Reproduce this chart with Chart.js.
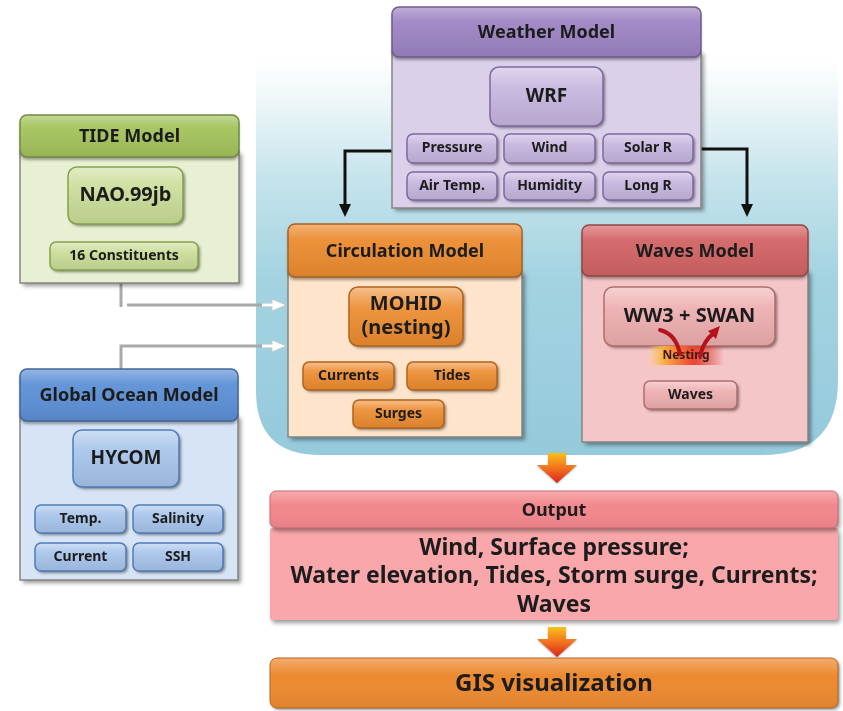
<!DOCTYPE html>
<html>
<head>
<meta charset="utf-8">
<script src="https://cdn.jsdelivr.net/npm/chart.js@4.4.1/dist/chart.umd.min.js"></script>
<style>
  html, body { margin: 0; padding: 0; background: #fff; }
  #diagram { display: block; }
</style>
</head>
<body>
<canvas id="diagram" width="843" height="711"></canvas>
<script>
// ---- diagram content ----
const moduleTitles = ["Weather Model", "TIDE Model", "Global Ocean Model", "Circulation Model", "Waves Model"];
const coreModels = ["WRF", "NAO.99jb", "HYCOM", "MOHID\n(nesting)", "WW3 + SWAN"];
const weatherVars = ["Pressure", "Wind", "Solar R", "Air Temp.", "Humidity", "Long R"];
const tideVars = ["16 Constituents"];
const oceanVars = ["Temp.", "Salinity", "Current", "SSH"];
const circulationVars = ["Currents", "Tides", "Surges"];
const wavesVars = ["Waves"];
const nestingLabel = "Nesting";
const outputTitle = "Output";
const outputLines = ["Wind, Surface pressure;", "Water elevation, Tides, Storm surge, Currents;", "Waves"];
const finalStep = "GIS visualization";

// ---- layout (diagram units, x: 0..843, y: 0..711 downwards) ----
const layout = {
    modules: [
        { box: [392, 7, 701, 208], head: 57, col: "#9c84c3", body: "#dbd0ea", btn: "#c6b5de", edge: "#7d68a0" },
        { box: [20, 115, 239, 283], head: 157, col: "#a3c35b", body: "#e8f0d3", btn: "#cadd98", edge: "#86a14b" },
        { box: [20, 369, 238, 580], head: 421, col: "#5c90d6", body: "#d7e4f5", btn: "#a6c4eb", edge: "#4f7bb8" },
        { box: [288, 224, 522, 437], head: 277, col: "#ec8b30", body: "#fde4ca", btn: "#ed8c30", edge: "#b4621b" },
        { box: [582, 225, 808, 442], head: 276, col: "#d26364", body: "#f5c6c7", btn: "#eeaeb0", edge: "#b26c6e" }
    ],
    cores: [[490, 67, 603, 126], [68, 167, 183, 224], [73, 430, 179, 487], [349, 287, 463, 346], [604, 287, 775, 346]],
    weather: [[407, 134, 497, 163], [504, 134, 595, 163], [603, 134, 693, 163],
              [407, 172, 497, 200], [504, 172, 595, 200], [603, 172, 693, 200]],
    tide: [[50, 242, 198, 270]],
    ocean: [[35, 505, 126, 533], [133, 505, 223, 533], [35, 543, 126, 571], [133, 543, 223, 571]],
    circulation: [[303, 362, 394, 390], [407, 362, 497, 390], [353, 400, 444, 428]],
    waves: [[644, 381, 737, 409]],
    output: [270, 491, 838, 528, 620],
    gis: [270, 658, 838, 708],
    downArrows: [[557, 453, 483], [557, 627, 657]]
};

const FONT = '"Noto Sans", "DejaVu Sans", sans-serif';

function shade(hex, amt) {
    let n = parseInt(hex.slice(1), 16);
    let r = (n >> 16) & 255, g = (n >> 8) & 255, b = n & 255;
    const f = v => Math.max(0, Math.min(255, Math.round(amt >= 0 ? v + (255 - v) * amt : v * (1 + amt))));
    return `rgb(${f(r)},${f(g)},${f(b)})`;
}

const diagramPlugin = {
    id: "diagram",
    afterDraw(chart) {
        const ctx = chart.ctx;
        const sx = chart.scales.x, sy = chart.scales.y;
        const X = v => sx.getPixelForValue(v);
        const Y = v => sy.getPixelForValue(v);

        function text(str, x, y, size, maxW, color) {
            ctx.save();
            ctx.font = `bold ${size}px ${FONT}`;
            ctx.fillStyle = color || "#1c1c1c";
            ctx.textAlign = "center";
            ctx.textBaseline = "middle";
            if (maxW) ctx.fillText(str, X(x), Y(y), maxW);
            else ctx.fillText(str, X(x), Y(y));
            ctx.restore();
        }

        function button(b, base, edge, label, size, r) {
            const x = X(b[0]), y = Y(b[1]), w = X(b[2]) - x, h = Y(b[3]) - y;
            r = r || 6;
            ctx.save();
            ctx.shadowColor = "rgba(0,0,0,0.45)";
            ctx.shadowOffsetX = 2; ctx.shadowOffsetY = 2; ctx.shadowBlur = 3;
            ctx.beginPath(); ctx.roundRect(x, y, w, h, r);
            ctx.fillStyle = base; ctx.fill();
            ctx.restore();
            ctx.save();
            const g = ctx.createLinearGradient(0, y, 0, y + h);
            g.addColorStop(0, "rgba(255,255,255,0.45)");
            g.addColorStop(0.35, "rgba(255,255,255,0.08)");
            g.addColorStop(1, "rgba(0,0,0,0.08)");
            ctx.beginPath(); ctx.roundRect(x, y, w, h, r);
            ctx.fillStyle = g; ctx.fill();
            ctx.lineWidth = 1.5; ctx.strokeStyle = edge; ctx.stroke();
            ctx.restore();
            const lines = label.split("\n");
            const cy = (b[1] + b[3]) / 2, lh = size * 1.22;
            lines.forEach((t, i) => text(t, (b[0] + b[2]) / 2, cy + (i - (lines.length - 1) / 2) * lh, size, w - 6));
        }

        function module(m, title) {
            const [x1, y1, x2, y2] = m.box;
            // body
            ctx.save();
            ctx.shadowColor = "rgba(0,0,0,0.4)";
            ctx.shadowOffsetX = 3; ctx.shadowOffsetY = 3; ctx.shadowBlur = 4;
            ctx.fillStyle = m.body;
            ctx.fillRect(X(x1), Y(m.head - 6), X(x2) - X(x1), Y(y2) - Y(m.head - 6));
            ctx.restore();
            ctx.save();
            ctx.strokeStyle = "#858585"; ctx.lineWidth = 1.5;
            ctx.strokeRect(X(x1), Y(m.head - 6), X(x2) - X(x1), Y(y2) - Y(m.head - 6));
            ctx.restore();
            // header
            const hx = X(x1), hy = Y(y1), hw = X(x2) - X(x1), hh = Y(m.head) - Y(y1);
            ctx.save();
            ctx.shadowColor = "rgba(0,0,0,0.35)";
            ctx.shadowOffsetY = 3; ctx.shadowBlur = 3;
            ctx.beginPath(); ctx.roundRect(hx, hy, hw, hh, 7);
            ctx.fillStyle = m.col; ctx.fill();
            ctx.restore();
            ctx.save();
            const g = ctx.createLinearGradient(0, hy, 0, hy + hh);
            g.addColorStop(0, "rgba(255,255,255,0.35)");
            g.addColorStop(0.3, "rgba(255,255,255,0.05)");
            g.addColorStop(1, "rgba(0,0,0,0.08)");
            ctx.beginPath(); ctx.roundRect(hx, hy, hw, hh, 7);
            ctx.fillStyle = g; ctx.fill();
            ctx.lineWidth = 1.5; ctx.strokeStyle = shade(m.col, -0.3); ctx.stroke();
            ctx.restore();
            text(title, (x1 + x2) / 2, (y1 + m.head) / 2 + 1, 18);
        }

        // background panel, fading to white at the top
        ctx.save();
        ctx.fillStyle = "#fff";
        ctx.fillRect(0, 0, chart.width, chart.height);
        const bg = ctx.createLinearGradient(0, Y(60), 0, Y(455));
        bg.addColorStop(0, "#ffffff");
        bg.addColorStop(0.1, "#eef7f9");
        bg.addColorStop(0.3, "#c6e4ec");
        bg.addColorStop(0.55, "#a3d3e1");
        bg.addColorStop(1, "#95cadb");
        ctx.beginPath();
        ctx.moveTo(X(256), Y(60));
        ctx.lineTo(X(838), Y(60));
        ctx.lineTo(X(838), Y(380));
        ctx.quadraticCurveTo(X(838), Y(455), X(763), Y(455));
        ctx.lineTo(X(320), Y(455));
        ctx.quadraticCurveTo(X(256), Y(455), X(256), Y(391));
        ctx.closePath();
        ctx.fillStyle = bg; ctx.fill();
        ctx.restore();

        // black connectors from weather model
        ctx.save();
        ctx.strokeStyle = "#111"; ctx.fillStyle = "#111"; ctx.lineWidth = 3;
        [[392, 345, 151], [701, 747, 149]].forEach(([from, to, yy]) => {
            ctx.beginPath();
            ctx.moveTo(X(from), Y(yy)); ctx.lineTo(X(to), Y(yy)); ctx.lineTo(X(to), Y(206));
            ctx.stroke();
            ctx.beginPath();
            ctx.moveTo(X(to) - 6, Y(204)); ctx.lineTo(X(to) + 6, Y(204)); ctx.lineTo(X(to), Y(217));
            ctx.closePath(); ctx.fill();
        });
        ctx.restore();

        // gray connectors to circulation model
        ctx.save();
        ctx.strokeStyle = "#a9a9a9"; ctx.lineWidth = 3;
        ctx.beginPath();
        ctx.moveTo(X(121), Y(283)); ctx.lineTo(X(121), Y(307));
        ctx.moveTo(X(127), Y(305)); ctx.lineTo(X(276), Y(305));
        ctx.moveTo(X(121), Y(369)); ctx.lineTo(X(121), Y(346)); ctx.lineTo(X(276), Y(346));
        ctx.stroke();
        ctx.fillStyle = "#fff"; ctx.strokeStyle = "#c8c8c8"; ctx.lineWidth = 1;
        [305, 346].forEach(yy => {
            ctx.beginPath();
            ctx.moveTo(X(272), Y(yy) - 6); ctx.lineTo(X(286), Y(yy)); ctx.lineTo(X(272), Y(yy) + 6);
            ctx.closePath(); ctx.fill(); ctx.stroke();
            ctx.fillRect(X(262), Y(yy) - 1.5, 12, 3);
        });
        ctx.restore();

        // modules
        layout.modules.forEach((m, i) => module(m, moduleTitles[i]));
        const M = layout.modules;
        const coreSizes = [19, 20, 19, 20, 20];
        layout.cores.forEach((b, i) => button(b, M[i].btn, M[i].edge, coreModels[i], coreSizes[i], 9));
        weatherVars.forEach((t, i) => button(layout.weather[i], M[0].btn, M[0].edge, t, 14));
        tideVars.forEach((t, i) => button(layout.tide[i], M[1].btn, M[1].edge, t, 14));
        oceanVars.forEach((t, i) => button(layout.ocean[i], M[2].btn, M[2].edge, t, 14));
        circulationVars.forEach((t, i) => button(layout.circulation[i], M[3].btn, M[3].edge, t, 14));
        wavesVars.forEach((t, i) => button(layout.waves[i], M[4].btn, M[4].edge, t, 14));

        // nesting glow + arcs
        ctx.save();
        const ng = ctx.createLinearGradient(X(648), 0, X(724), 0);
        ng.addColorStop(0, "rgba(255,210,90,0)");
        ng.addColorStop(0.2, "rgba(250,175,60,0.95)");
        ng.addColorStop(0.6, "rgba(235,60,40,0.95)");
        ng.addColorStop(1, "rgba(200,20,20,0)");
        ctx.fillStyle = ng;
        ctx.fillRect(X(648), Y(346), X(724) - X(648), Y(365) - Y(346));
        ctx.restore();
        text(nestingLabel, 686, 356, 12, null, "#3a1a10");
        ctx.save();
        ctx.strokeStyle = "#b5121b"; ctx.lineWidth = 4; ctx.lineCap = "round";
        ctx.beginPath();
        ctx.moveTo(X(660), Y(330));
        ctx.quadraticCurveTo(X(676), Y(334), X(680), Y(354));
        ctx.stroke();
        ctx.beginPath();
        ctx.moveTo(X(700), Y(356));
        ctx.quadraticCurveTo(X(704), Y(340), X(713), Y(334));
        ctx.stroke();
        ctx.fillStyle = "#b5121b";
        ctx.beginPath();
        ctx.moveTo(X(720), Y(326)); ctx.lineTo(X(708), Y(331)); ctx.lineTo(X(716), Y(339));
        ctx.closePath(); ctx.fill();
        ctx.restore();

        // orange down arrows
        layout.downArrows.forEach(([cx, top, tip]) => {
            const g = ctx.createLinearGradient(0, Y(top), 0, Y(tip));
            g.addColorStop(0, "#f7c21a");
            g.addColorStop(0.55, "#f26a1e");
            g.addColorStop(1, "#d9261a");
            ctx.save();
            ctx.shadowColor = "rgba(0,0,0,0.3)"; ctx.shadowOffsetY = 1; ctx.shadowBlur = 2;
            ctx.fillStyle = g;
            ctx.beginPath();
            ctx.moveTo(X(cx - 9), Y(top)); ctx.lineTo(X(cx + 9), Y(top));
            ctx.lineTo(X(cx + 9), Y(top + 12)); ctx.lineTo(X(cx + 20), Y(top + 12));
            ctx.lineTo(X(cx), Y(tip)); ctx.lineTo(X(cx - 20), Y(top + 12));
            ctx.lineTo(X(cx - 9), Y(top + 12));
            ctx.closePath(); ctx.fill();
            ctx.restore();
        });

        // output block
        const o = layout.output;
        ctx.save();
        ctx.shadowColor = "rgba(0,0,0,0.4)"; ctx.shadowOffsetX = 2; ctx.shadowOffsetY = 3; ctx.shadowBlur = 4;
        ctx.fillStyle = "#f9a7aa";
        ctx.beginPath(); ctx.roundRect(X(o[0]), Y(o[3]), X(o[2]) - X(o[0]), Y(o[4]) - Y(o[3]), 3); ctx.fill();
        ctx.fillStyle = "#f2878d";
        ctx.beginPath(); ctx.roundRect(X(o[0]), Y(o[1]), X(o[2]) - X(o[0]), Y(o[3]) - Y(o[1]), 6); ctx.fill();
        ctx.restore();
        ctx.save();
        let g2 = ctx.createLinearGradient(0, Y(o[1]), 0, Y(o[3]));
        g2.addColorStop(0, "rgba(255,255,255,0.3)"); g2.addColorStop(0.4, "rgba(255,255,255,0)");
        g2.addColorStop(1, "rgba(0,0,0,0.06)");
        ctx.fillStyle = g2;
        ctx.beginPath(); ctx.roundRect(X(o[0]), Y(o[1]), X(o[2]) - X(o[0]), Y(o[3]) - Y(o[1]), 6); ctx.fill();
        ctx.strokeStyle = "#c96a70"; ctx.lineWidth = 1;
        ctx.stroke();
        ctx.restore();
        text(outputTitle, (o[0] + o[2]) / 2, (o[1] + o[3]) / 2 + 1, 18);
        outputLines.forEach((t, i) => text(t, (o[0] + o[2]) / 2, 548 + i * 28.5, 23, 530));

        // GIS block
        const q = layout.gis;
        ctx.save();
        ctx.shadowColor = "rgba(0,0,0,0.4)"; ctx.shadowOffsetX = 2; ctx.shadowOffsetY = 2; ctx.shadowBlur = 3;
        ctx.fillStyle = "#ec8a31";
        ctx.beginPath(); ctx.roundRect(X(q[0]), Y(q[1]), X(q[2]) - X(q[0]), Y(q[3]) - Y(q[1]), 7); ctx.fill();
        ctx.restore();
        ctx.save();
        let g3 = ctx.createLinearGradient(0, Y(q[1]), 0, Y(q[3]));
        g3.addColorStop(0, "rgba(255,255,255,0.3)"); g3.addColorStop(0.35, "rgba(255,255,255,0)");
        g3.addColorStop(1, "rgba(0,0,0,0.06)");
        ctx.fillStyle = g3;
        ctx.beginPath(); ctx.roundRect(X(q[0]), Y(q[1]), X(q[2]) - X(q[0]), Y(q[3]) - Y(q[1]), 7); ctx.fill();
        ctx.strokeStyle = "#b9651c"; ctx.lineWidth = 1; ctx.stroke();
        ctx.restore();
        text(finalStep, (q[0] + q[2]) / 2, (q[1] + q[3]) / 2 + 1, 24);
    }
};

const diagramChart = new Chart(document.getElementById("diagram").getContext("2d"), {
    type: "scatter",
    data: { datasets: [] },
    options: {
        responsive: false,
        animation: false,
        layout: { padding: 0 },
        plugins: { legend: { display: false }, tooltip: { enabled: false } },
        scales: {
            x: { type: "linear", min: 0, max: 843, display: false },
            y: { type: "linear", min: 0, max: 711, reverse: true, display: false }
        }
    },
    plugins: [diagramPlugin]
});
</script>
</body>
</html>
